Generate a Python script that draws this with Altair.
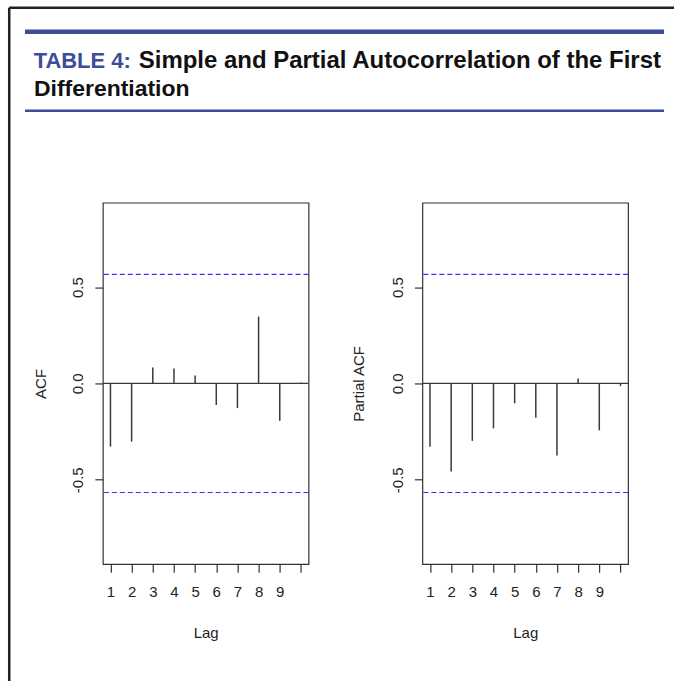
import altair as alt
import pandas as pd

# ---- data ----
lags = [1, 2, 3, 4, 5, 6, 7, 8, 9, 10]
acf_values = [-0.328, -0.302, 0.083, 0.078, 0.041, -0.112, -0.128, 0.347, -0.193, 0.005]
pacf_values = [-0.328, -0.457, -0.298, -0.233, -0.103, -0.178, -0.374, 0.026, -0.243, -0.014]
conf_limit = 0.566
y_ticks = [-0.5, 0.0, 0.5]
x_domain = [0.64, 10.36]
y_domain = [-0.938, 0.938]

title_prefix = "TABLE 4:"
title_line1 = "Simple and Partial Autocorrelation of the First"
title_line2 = "Differentiation"
panel_titles = ["ACF", "Partial ACF"]
x_title = "Lag"

# ---- style ----
W, H = 206, 362
INK = "#222222"
BAR = "#3a3a3a"
BLUE = "#3b4d9b"
CI_BLUE = "#3333ff"
FONT = "Liberation Sans"

one = pd.DataFrame({"k": [0]})

Y_LABEL_EXPR = ("datum.value < 0 ? '-' + format(-datum.value, '.1f') "
                ": format(datum.value, '.1f')")


def panel(values, ytitle, ytitle_x):
    df = pd.DataFrame({"Lag": lags, "value": values})
    x = alt.X(
        "Lag:Q",
        scale=alt.Scale(domain=x_domain, nice=False, zero=False),
        axis=alt.Axis(
            values=lags, title=x_title,
            labelExpr="datum.value == 10 ? '' : datum.label",
            labelPadding=12, labelFlush=False, labelOverlap=False,
            titleX=W / 2, titleY=73, titleBaseline="alphabetic",
            titleAlign="center", titleAngle=0,
        ),
    )
    y = alt.Y(
        "value:Q",
        scale=alt.Scale(domain=y_domain, nice=False, zero=False),
        axis=alt.Axis(
            values=y_ticks, title=ytitle, labelExpr=Y_LABEL_EXPR,
            labelAngle=270, labelAlign="center", labelBaseline="alphabetic",
            labelPadding=12, labelFlush=False, labelOverlap=False,
            titleAngle=270, titleAlign="center", titleBaseline="alphabetic",
            titleX=ytitle_x, titleY=H / 2,
        ),
    )
    bars = alt.Chart(df).mark_rule(color=BAR, strokeWidth=1.5).encode(
        x=x, y=y, y2=alt.datum(0)
    )
    zero = alt.Chart(one).mark_rule(color=BAR, strokeWidth=1.3).encode(y=alt.datum(0))
    ci_hi = alt.Chart(one).mark_rule(color=CI_BLUE, strokeWidth=1.2, strokeDash=[5, 3]).encode(
        y=alt.datum(conf_limit))
    ci_lo = alt.Chart(one).mark_rule(color=CI_BLUE, strokeWidth=1.2, strokeDash=[5, 3]).encode(
        y=alt.datum(-conf_limit))
    return [bars, zero, ci_hi, ci_lo]


def hline(x1, x2, y, color, sw):
    return alt.Chart(one).mark_rule(color=color, strokeWidth=sw, strokeCap="butt").encode(
        x=alt.value(x1), x2=alt.value(x2), y=alt.value(y))


def vline(x, y1, y2, color, sw):
    return alt.Chart(one).mark_rule(color=color, strokeWidth=sw, strokeCap="butt").encode(
        x=alt.value(x), y=alt.value(y1), y2=alt.value(y2))


def text(s, x, y, color, size=24, align="left"):
    return alt.Chart(one).mark_text(
        align=align, baseline="alphabetic", font=FONT, fontSize=size,
        fontWeight="bold", color=color,
    ).encode(x=alt.value(x), y=alt.value(y), text=alt.value(s))


# header / frame, positioned relative to the left panel's plot area
header = [
    hline(-93.75, 572, -195.25, INK, 2.5),
    vline(-93.75, -195.25, 479, INK, 2.5),
    hline(-78, 562, -171.2, BLUE, 4.5),
    hline(-78, 562, -92, BLUE, 2.5),
    text(title_prefix, 28, -135, BLUE, size=22, align="right"),
    text(title_line1, 36, -135, "#111111"),
    text(title_line2, -69, -107, "#111111", size=23),
]

left = alt.layer(*(panel(acf_values, panel_titles[0], -57.5) + header)).properties(width=W, height=H)
right = alt.layer(*panel(pacf_values, panel_titles[1], -58.5)).properties(width=W, height=H)

chart = (
    alt.hconcat(left, right, spacing=114, bounds="flush")
    .properties(padding={"left": 7, "top": 4.5, "right": 0, "bottom": 0}, background="white")
    .configure_view(stroke="#333333", strokeWidth=1.2)
    .configure_axis(
        domain=False, grid=False, ticks=True, tickColor="#333333", tickSize=8, tickWidth=1.2,
        labelFont=FONT, labelFontSize=15, labelColor=INK,
        titleFont=FONT, titleFontSize=15, titleFontWeight="normal", titleColor=INK,
    )
)

chart.save("out.html", embed_options={"renderer": "svg", "actions": False})
